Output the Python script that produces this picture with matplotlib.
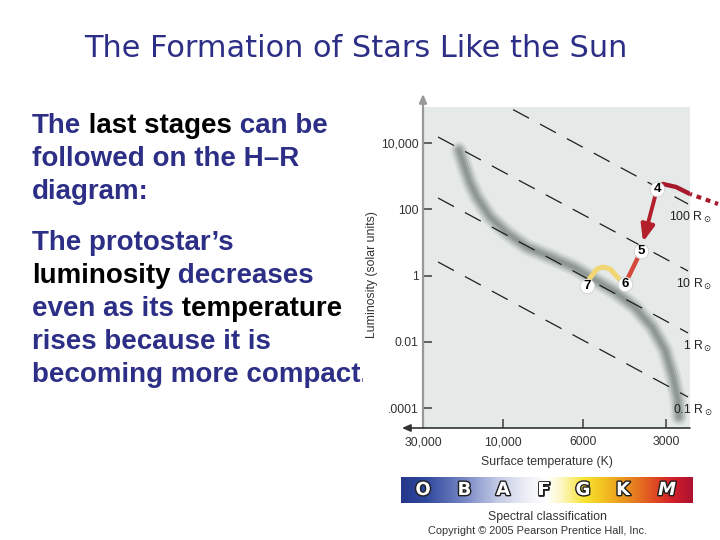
import numpy as np
import matplotlib
matplotlib.use("Agg")
import matplotlib.pyplot as plt
from matplotlib.colors import LinearSegmentedColormap
from matplotlib.patches import FancyArrowPatch, Rectangle
from matplotlib import transforms
import matplotlib.patheffects as pe

plt.rcParams['lines.scale_dashes'] = False

# ---------------- data ----------------
T_TICKS = [30000, 10000, 6000, 3000]
T_TICK_LABELS = ['30,000', '10,000', '6000', '3000']
T_TICK_POS = [0.0, 1.0, 2.0, 3.04]          # relative spacing of the temperature ticks
L_TICKS = [1e4, 1e2, 1, 1e-2, 1e-4]
L_TICK_LABELS = ['10,000', '100', '1', '0.01', '.0001']

# main sequence band
MS_T = [18300, 17100, 15700, 14300, 11950, 9750, 8580, 7270, 6310, 5430,
        4590, 3890, 3375, 3030, 2835, 2720, 2697]
MS_L = [6170, 2190, 630, 234, 59, 19.5, 7.2, 3.4, 1.7, 0.74,
        0.32, 0.11, 0.028, 0.0056, 8.7e-4, 1.7e-4, 5.4e-5]

# lines of constant radius
RADIUS_LABELS = [r'100 R$_\odot$', r'10 R$_\odot$', r'1 R$_\odot$', r'0.1 R$_\odot$']
RADIUS_T = [24400, 2500]
RADIUS_L100 = [1.73e6, 146]
RADIUS_L10 = [15400, 1.38]
RADIUS_L1 = [221, 0.0185]
RADIUS_L01 = [2.58, 2.15e-4]

# evolutionary stages
STAGE_NUM = ['4', '5', '6', '7']
STAGE_T = [3237, 3700, 4227, 5800]
STAGE_L = [413, 5.5, 0.557, 0.485]
TAIL_T = [3237, 3082, 2763, 2460]
TAIL_L = [413, 585, 475, 292]
TAIL_DOT_T = [2460, 1948]
TAIL_DOT_L = [292, 146]
ARROW_TIP_T = 3639
ARROW_TIP_L = 10.4
HOOK_T = [4227, 4406, 4790, 5077, 5339, 5657, 5800]
HOOK_L = [0.557, 0.74, 1.59, 1.82, 1.59, 0.85, 0.485]

SPECTRAL = ['O', 'B', 'A', 'F', 'G', 'K', 'M']
SPECTRAL_T = [30000, 17000, 10000, 7700, 6000, 4300, 2980]

NAVY = '#2D2F86'
BLACK = '#000000'
BODY = [
    [("The", NAVY), (" last stages", BLACK), (" can be", NAVY)],
    [("followed on the H\u2013R", NAVY)],
    [("diagram:", NAVY)],
    [("The protostar\u2019s", NAVY)],
    [("luminosity", BLACK), (" decreases", NAVY)],
    [("even as its", NAVY), (" temperature", BLACK)],
    [("rises because it is", NAVY)],
    [("becoming more compact.", NAVY)],
]
BODY_BASELINES = [133, 166, 199, 250, 283, 316, 349, 382]

# ---------------- scale ----------------
def _lin_extrap(x, xp, fp):
    x = np.asarray(x, dtype=float)
    xp = np.asarray(xp, dtype=float)
    fp = np.asarray(fp, dtype=float)
    y = np.interp(x, xp, fp)
    s0 = (fp[1] - fp[0]) / (xp[1] - xp[0])
    s1 = (fp[-1] - fp[-2]) / (xp[-1] - xp[-2])
    y = np.where(x < xp[0], fp[0] + (x - xp[0]) * s0, y)
    y = np.where(x > xp[-1], fp[-1] + (x - xp[-1]) * s1, y)
    return y

_logT_asc = np.log10(T_TICKS[::-1])
_negpos_asc = [-p for p in T_TICK_POS[::-1]]     # increasing with T
_negpos_for_inv = [-p for p in T_TICK_POS][::-1]
_logT_for_inv = list(np.log10(T_TICKS))[::-1]

def t_forward(T):
    T = np.asarray(T, dtype=float)
    return _lin_extrap(np.log10(np.clip(T, 1e-6, None)), _logT_asc, _negpos_asc)

def t_inverse(p):
    return 10 ** _lin_extrap(p, _negpos_for_inv, _logT_for_inv)

# ---------------- figure ----------------
W, H = 720, 540

def fx(px):
    return px / W

def fy(py):
    return 1 - py / H

fig = plt.figure(figsize=(7.2, 5.4), dpi=100)
fig.patch.set_facecolor('white')

for parts, base in zip(BODY, BODY_BASELINES):
    s, c = parts[0]
    prev = fig.text(fx(32), fy(base), s, color=c, fontsize=20, fontweight='bold',
                    family='Liberation Sans', va='baseline', ha='left', zorder=1)
    for s, c in parts[1:]:
        ann = matplotlib.text.Annotation(s, xy=(1, 0), xycoords=prev, color=c,
                                         fontsize=20, fontweight='bold',
                                         family='Liberation Sans',
                                         va='bottom', ha='left', zorder=1)
        fig.add_artist(ann)
        prev = ann

fig.text(fx(356), fy(57), "The Formation of Stars Like the Sun", color=NAVY,
         fontsize=21.9, family='DejaVu Sans', ha='center', va='baseline', zorder=1)

# white backing of the diagram
fig.add_artist(Rectangle((fx(363), 0), 1 - fx(363), fy(88), transform=fig.transFigure,
                         facecolor='white', edgecolor='none', zorder=2))

ax = fig.add_axes([fx(423), fy(428), (690 - 423) / W, (428 - 107) / H])
ax.set_zorder(5)
ax.set_facecolor('#E5E9E8')
ax.set_xscale('function', functions=(t_forward, t_inverse))
ax.set_yscale('log')
ax.set_xlim(30000, float(t_inverse(-3.3375)))
ax.set_ylim(10 ** -4.604, 10 ** 5.094)
for sp in ax.spines.values():
    sp.set_visible(False)

ax.set_xticks(T_TICKS, labels=T_TICK_LABELS)
ax.set_yticks(L_TICKS, labels=L_TICK_LABELS)
ax.xaxis.set_minor_locator(matplotlib.ticker.NullLocator())
ax.yaxis.set_minor_locator(matplotlib.ticker.NullLocator())
ax.tick_params(axis='both', direction='in', length=6.5, width=1.2, colors='#4a4a4a',
               labelcolor='#333333', labelsize=8.8)
ax.tick_params(axis='y', pad=3)
ax.tick_params(axis='x', pad=6)
for lab in ax.get_xticklabels() + ax.get_yticklabels():
    lab.set_family('Liberation Sans')

# axis arrows
ax.annotate('', xy=(0, (428 - 94) / (428 - 107)), xytext=(0, 0), xycoords='axes fraction',
            arrowprops=dict(arrowstyle='-|>,head_length=0.5,head_width=0.22', color='#999999',
                            lw=1.6, shrinkA=0, shrinkB=0, mutation_scale=10),
            annotation_clip=False)
ax.annotate('', xy=((402 - 423) / (690 - 423), 0), xytext=(1, 0), xycoords='axes fraction',
            arrowprops=dict(arrowstyle='-|>,head_length=0.5,head_width=0.22', color='#333333',
                            lw=1.2, shrinkA=0, shrinkB=0, mutation_scale=10),
            annotation_clip=False)

# main sequence (soft gray band)
for lw, col, a in [(12, '#B0B8B5', 0.3), (9, '#A2ABA8', 0.45), (6, '#95A09C', 0.65),
                   (3, '#8A9491', 0.8)]:
    ax.plot(MS_T, MS_L, color=col, lw=lw, alpha=a, solid_capstyle='round',
            solid_joinstyle='round', zorder=2)

# constant-radius lines
radius_sets = [RADIUS_L100, RADIUS_L10, RADIUS_L1, RADIUS_L01]
offsets = [4.6, 0, 0, 0]
for Ls, lab, off in zip(radius_sets, RADIUS_LABELS, offsets):
    ax.plot(RADIUS_T, Ls, color='#1E1E1E', lw=0.9, linestyle=(off, (13, 9)), zorder=3)
    ax.annotate(lab, xy=(RADIUS_T[1], Ls[1]), xytext=(17.3, -9.4),
                textcoords='offset points', ha='right', va='center',
                fontsize=8.8, family='Liberation Sans', color='#222222',
                annotation_clip=False, zorder=6)

# evolutionary track
ax.plot(TAIL_T, TAIL_L, color='#A8192B', lw=3.2, solid_capstyle='butt', zorder=4)
ax.plot(TAIL_DOT_T, TAIL_DOT_L, color='#A8192B', lw=3.0, linestyle=(2, (3.5, 3.5)),
        clip_on=False, zorder=4)
arrow = FancyArrowPatch((STAGE_T[0], STAGE_L[0]), (ARROW_TIP_T, ARROW_TIP_L),
                        arrowstyle='-|>,head_length=10,head_width=4', mutation_scale=1,
                        color='#B3202C', lw=2.8, shrinkA=0, shrinkB=0,
                        transform=ax.transData, zorder=4)
ax.add_patch(arrow)
ax.plot(STAGE_T[1:3], STAGE_L[1:3], color='#D5493C', lw=3.2, zorder=4)
ax.plot(HOOK_T, HOOK_L, color='#F1D673', lw=3.6, solid_capstyle='round',
        solid_joinstyle='round', zorder=4)

ax.plot(STAGE_T, STAGE_L, 'o', ms=10.5, mfc='white', mec='#D0D0D0', mew=0.6, zorder=7)
for n, t, l in zip(STAGE_NUM, STAGE_T, STAGE_L):
    ax.text(t, l, n, ha='center', va='center', fontsize=9.5, fontweight='bold',
            family='Liberation Sans', color='black', zorder=8)

# labels around the diagram
fig.text(fx(372), fy(275), 'Luminosity (solar units)', rotation=90, ha='center',
         va='center', fontsize=8.8, family='Liberation Sans', color='#333333', zorder=6)
fig.text(fx(547), fy(462), 'Surface temperature (K)', ha='center', va='center',
         fontsize=8.8, family='Liberation Sans', color='#333333', zorder=6)
fig.text(fx(547), fy(517), 'Spectral classification', ha='center', va='center',
         fontsize=8.8, family='Liberation Sans', color='#333333', zorder=6)
fig.text(fx(537), fy(531), 'Copyright \u00a9 2005 Pearson Prentice Hall, Inc.', ha='center',
         va='center', fontsize=7.9, family='Liberation Sans', color='#333333', zorder=6)

# spectral bar
bar_ax = fig.add_axes([fx(401), fy(503), (693 - 401) / W, 26 / H])
bar_ax.set_zorder(5)
cmap = LinearSegmentedColormap.from_list('spec', [
    (0.00, '#26388C'), (0.08, '#2F479C'), (0.22, '#7A8AC6'), (0.33, '#C3CAE6'),
    (0.43, '#EEEFF6'), (0.50, '#FFFFFF'), (0.55, '#FDF7C4'), (0.63, '#F8E430'),
    (0.70, '#F2BE20'), (0.77, '#EA9320'), (0.85, '#E25A22'), (0.93, '#D4202A'),
    (1.00, '#AE1230')])
bar_ax.imshow(np.linspace(0, 1, 400)[None, :], aspect='auto', cmap=cmap,
              extent=(0, 1, 0, 1))
bar_ax.set_xlim(0, 1)
bar_ax.set_ylim(0, 1)
bar_ax.axis('off')
trans = transforms.blended_transform_factory(ax.transData, bar_ax.transAxes)
for letter, t in zip(SPECTRAL, SPECTRAL_T):
    fig.text(t, 0.5, letter, transform=trans, ha='center', va='center',
             fontsize=13, fontweight='heavy', family='DejaVu Sans',
             style='italic' if letter == 'M' else 'normal', color='white',
             path_effects=[pe.Stroke(linewidth=2.0, foreground='#1E1E1E'), pe.Normal()],
             zorder=7)

fig.savefig('out.png', dpi=100)
